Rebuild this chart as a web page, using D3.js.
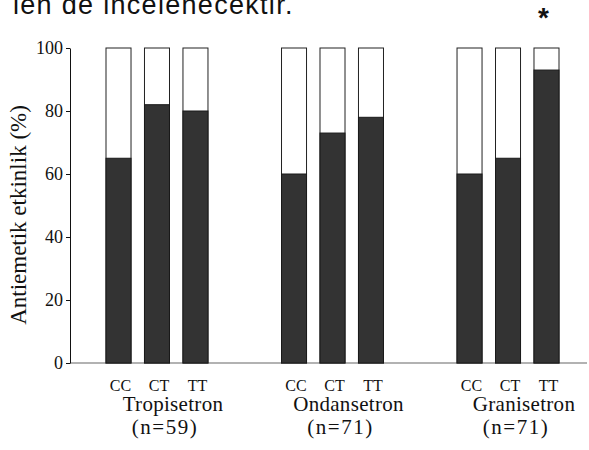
<!DOCTYPE html>
<html>
<head>
<meta charset="utf-8">
<script src="https://cdn.jsdelivr.net/npm/d3@7"></script>
<style>
  body { margin: 0; background: #fff; }
  svg { display: block; }
</style>
</head>
<body>
<div id="chart"></div>
<script>
// data
var groups = ["Tropisetron", "Ondansetron", "Granisetron"];
var groupN = ["(n=59)", "(n=71)", "(n=71)"];
var genotypes = ["CC", "CT", "TT"];
var tropisetron = [65, 82, 80];
var ondansetron = [60, 73, 78];
var granisetron = [60, 65, 93];
var yTicks = [0, 20, 40, 60, 80, 100];
var marked = [{group: "Granisetron", geno: "TT", label: "*"}];

var width = 589, height = 450;
var serif = "'Liberation Serif', 'Times New Roman', serif";

var series = [tropisetron, ondansetron, granisetron];
var rows = [];
groups.forEach(function (g, i) {
  genotypes.forEach(function (t, j) {
    rows.push({group: g, geno: t, value: series[i][j]});
  });
});

var svg = d3.select("#chart").append("svg")
  .attr("width", width)
  .attr("height", height);

// piece of running text above the figure, clipped by the page top
svg.append("text")
  .attr("x", 13)
  .attr("y", 14)
  .style("font-family", "'Liberation Sans', Arial, sans-serif")
  .style("font-size", "27px")
  .style("letter-spacing", "1.3px")
  .attr("fill", "#111")
  .text("len de incelenecektir.");

var y = d3.scaleLinear().domain([0, 100]).range([363, 48]);
var x0 = d3.scaleBand().domain(groups).range([106, 559]).paddingInner(0.419);
var x1 = d3.scaleBand().domain(genotypes).range([0, x0.bandwidth()]).paddingInner(0.35);

// x axis baseline
svg.append("line")
  .attr("x1", 70).attr("x2", 587)
  .attr("y1", y(0)).attr("y2", y(0))
  .attr("stroke", "#666").attr("stroke-width", 1.2);

// y axis
var yAxis = svg.append("g")
  .attr("transform", "translate(70,0)")
  .call(d3.axisLeft(y).tickValues(yTicks).tickSize(4).tickSizeOuter(0).tickPadding(3));
yAxis.select(".domain").attr("stroke", "#111");
yAxis.selectAll(".tick line").attr("stroke", "#111");
yAxis.selectAll(".tick text")
  .style("font-family", serif)
  .style("font-size", "18px")
  .attr("fill", "#111");

svg.append("text")
  .attr("transform", "translate(26,215) rotate(-90)")
  .attr("text-anchor", "middle")
  .style("font-family", serif)
  .style("font-size", "23px")
  .attr("fill", "#111")
  .text("Antiemetik etkinlik (%)");

function barX(d) { return x0(d.group) + x1(d.geno); }

// full 100% outline (white part)
svg.selectAll("rect.full").data(rows).enter().append("rect")
  .attr("class", "full")
  .attr("x", barX)
  .attr("y", y(100))
  .attr("width", x1.bandwidth())
  .attr("height", y(0) - y(100))
  .attr("fill", "#fff")
  .attr("stroke", "#222")
  .attr("stroke-width", 1);

// efficacy part
svg.selectAll("rect.val").data(rows).enter().append("rect")
  .attr("class", "val")
  .attr("x", barX)
  .attr("y", function (d) { return y(d.value); })
  .attr("width", x1.bandwidth())
  .attr("height", function (d) { return y(0) - y(d.value); })
  .attr("fill", "#333")
  .attr("stroke", "#1a1a1a")
  .attr("stroke-width", 1);

// genotype labels
svg.selectAll("text.geno").data(rows).enter().append("text")
  .attr("class", "geno")
  .attr("x", function (d) { return barX(d) + x1.bandwidth() / 2 + 2; })
  .attr("y", 391)
  .attr("text-anchor", "middle")
  .style("font-family", serif)
  .style("font-size", "16px")
  .attr("fill", "#111")
  .text(function (d) { return d.geno; });

// drug names
svg.selectAll("text.drug").data(groups).enter().append("text")
  .attr("class", "drug")
  .attr("x", function (g) { return x0(g) + x0.bandwidth() / 2 + 16; })
  .attr("y", 411)
  .attr("text-anchor", "middle")
  .style("font-family", serif)
  .style("font-size", "21px")
  .style("letter-spacing", "0.3px")
  .attr("fill", "#111")
  .text(function (g) { return g; });

svg.selectAll("text.n").data(groups).enter().append("text")
  .attr("class", "n")
  .attr("x", function (g) { return x0(g) + x0.bandwidth() / 2 + 8; })
  .attr("y", 434)
  .attr("text-anchor", "middle")
  .style("font-family", serif)
  .style("font-size", "21px")
  .style("letter-spacing", "1.5px")
  .attr("fill", "#111")
  .text(function (g, i) { return groupN[i]; });

// significance mark
svg.selectAll("text.star").data(marked).enter().append("text")
  .attr("class", "star")
  .attr("x", function (d) { return x0(d.group) + x1(d.geno) + x1.bandwidth() / 2 - 3; })
  .attr("y", 27)
  .attr("text-anchor", "middle")
  .style("font-family", "'Liberation Sans', Arial, sans-serif")
  .style("font-size", "28px")
  .style("font-weight", "bold")
  .attr("fill", "#111")
  .text(function (d) { return d.label; });
</script>
</body>
</html>
